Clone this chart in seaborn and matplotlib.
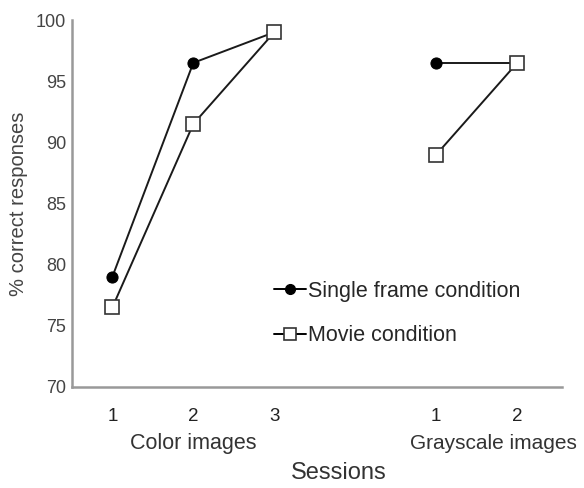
import seaborn as sns
import matplotlib.pyplot as plt
from matplotlib.lines import Line2D
import pandas as pd

# positions on the session axis: color 1-3, gap, grayscale 1-2
color_x = [1, 2, 3]
gray_x = [5, 6]
color_sessions = ['1', '2', '3']
gray_sessions = ['1', '2']

single_color = [79, 96.5, 99]
single_gray = [96.5, 96.5]
movie_color = [76.5, 91.5, 99]
movie_gray = [89, 96.5]

rows = []
for cond, cvals, gvals in [('Single frame condition', single_color, single_gray),
                           ('Movie condition', movie_color, movie_gray)]:
    for x, v in zip(color_x, cvals):
        rows.append((cond, 'color', x, v))
    for x, v in zip(gray_x, gvals):
        rows.append((cond, 'gray', x, v))
df = pd.DataFrame(rows, columns=['condition', 'block', 'x', 'pct'])

sns.set_style('white')
plt.rcParams['font.family'] = ['Liberation Sans', 'DejaVu Sans']

fig = plt.figure(figsize=(5.84, 4.88), dpi=100)
ax = fig.add_axes([0.123, 0.207, 0.839, 0.752])

styles = {
    'Single frame condition': dict(marker='o', markersize=8, markerfacecolor='black',
                                   markeredgecolor='black', zorder=3),
    'Movie condition': dict(marker='s', markersize=9.5, markerfacecolor='white',
                            markeredgecolor='#333333', markeredgewidth=1.2, zorder=4),
}

for (cond, block), sub in df.groupby(['condition', 'block']):
    sns.lineplot(data=sub, x='x', y='pct', ax=ax, color='#1a1a1a', linewidth=1.4,
                 legend=False, **styles[cond])

ax.set_xlim(0.5, 6.55)
ax.set_ylim(70, 100)
ax.set_yticks([70, 75, 80, 85, 90, 95, 100])
ax.set_xticks(color_x + gray_x)
ax.set_xticklabels(color_sessions + gray_sessions)
ax.tick_params(axis='y', length=3, width=1, color='#999999', labelsize=13, labelcolor='#444444', pad=1)
ax.tick_params(axis='x', length=0, labelsize=13.5, labelcolor='#222222', pad=15)
for s in ['top', 'right']:
    ax.spines[s].set_visible(False)
for s in ['left', 'bottom']:
    ax.spines[s].set_color('#999999')
    ax.spines[s].set_linewidth(1.8)

ax.set_xlabel('')
ax.set_ylabel('% correct responses', fontsize=14.5, color='#444444', labelpad=6)

ax.text(2, 65.4, 'Color images', ha='center', va='center', fontsize=15.5, color='#333333')
ax.text(5.7, 65.4, 'Grayscale images', ha='center', va='center', fontsize=15,
        color='#333333', clip_on=False)
ax.text(3.8, 63.0, 'Sessions', ha='center', va='center', fontsize=17, color='#333333')

leg_sizes = {'Single frame condition': 7, 'Movie condition': 8.5}
handles = []
for c in ['Single frame condition', 'Movie condition']:
    st = {k: v for k, v in styles[c].items() if k != 'zorder'}
    st['markersize'] = leg_sizes[c]
    handles.append(Line2D([], [], color='black', linewidth=1.4, **st))
ax.legend(handles, ['Single frame condition', 'Movie condition'], loc='upper left',
          bbox_to_anchor=(0.412, 0.29), frameon=False, fontsize=15.5, handlelength=1.5,
          handletextpad=0.1, labelspacing=1.1, borderaxespad=0, borderpad=0)

fig.savefig('out.png', dpi=100)
